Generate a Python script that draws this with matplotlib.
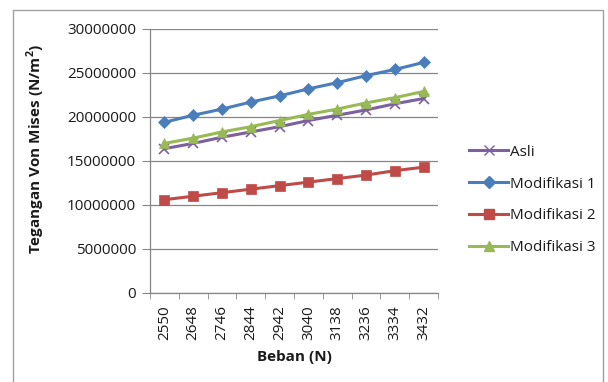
import matplotlib
matplotlib.use('Agg')
import matplotlib.pyplot as plt
from matplotlib.lines import Line2D
from matplotlib.patches import Rectangle

plt.rcParams['font.family'] = ['Open Sans', 'DejaVu Sans']

# --- data ---
beban = ['2550', '2648', '2746', '2844', '2942', '3040', '3138', '3236', '3334', '3432']
asli  = [16.4e6, 17.0e6, 17.7e6, 18.3e6, 18.9e6, 19.6e6, 20.2e6, 20.8e6, 21.5e6, 22.1e6]
mod1  = [19.4e6, 20.2e6, 20.9e6, 21.7e6, 22.4e6, 23.2e6, 23.9e6, 24.7e6, 25.4e6, 26.2e6]
mod2  = [10.6e6, 11.0e6, 11.4e6, 11.8e6, 12.2e6, 12.6e6, 13.0e6, 13.4e6, 13.9e6, 14.3e6]
mod3  = [17.0e6, 17.6e6, 18.3e6, 18.9e6, 19.6e6, 20.3e6, 20.9e6, 21.6e6, 22.2e6, 22.9e6]
yticks = [0, 5000000, 10000000, 15000000, 20000000, 25000000, 30000000]

GRID = '#868686'
TXT = '#1A1A1A'
series = [
    ('Asli',        asli, '#7D60A0', 'x', 7),
    ('Modifikasi 1', mod1, '#4A7EBB', 'D', 6),
    ('Modifikasi 2', mod2, '#BE4B48', 's', 7.5),
    ('Modifikasi 3', mod3, '#98B954', '^', 7.5),
]

fig = plt.figure(figsize=(6.08, 3.82), dpi=100)
fig.patch.set_facecolor('white')
# outer chart border (bottom edge runs off the image, as in the reference)
fig.patches.append(Rectangle((13 / 608, -0.05), 590 / 608, 1.05 - 10 / 382,
                             transform=fig.transFigure, fill=False,
                             edgecolor='#A0A0A0', linewidth=1))

ax = fig.add_axes([150 / 608, 1 - 293 / 382, 288 / 608, 264 / 382])
x = list(range(len(beban)))

handles = []
for name, vals, color, mk, ms in series:
    ax.plot(x, vals, color=color, linewidth=2.2, marker=mk, markersize=ms,
            markeredgewidth=1.2 if mk == 'x' else 0.5, markeredgecolor=color,
            zorder=3)
    handles.append(Line2D([], [], color=color, linewidth=2.2, marker=mk,
                          markersize=ms, markeredgecolor=color, label=name))

ax.set_xlim(-0.5, len(beban) - 0.5)
ax.set_ylim(0, 30000000)
ax.set_yticks(yticks)
ax.set_yticklabels([str(v) for v in yticks])
ax.set_xticks(x)
ax.set_xticklabels(beban, rotation=90)
ax.set_xticks([i - 0.5 for i in range(len(beban) + 1)], minor=True)
ax.tick_params(axis='x', which='major', length=0, pad=9, labelsize=11, colors=TXT)
ax.tick_params(axis='x', which='minor', length=4, color=GRID)
ax.tick_params(axis='y', length=6, color=GRID, labelsize=11, colors=TXT, pad=4)
ax.grid(axis='y', color=GRID, linewidth=0.9)
ax.set_axisbelow(True)
for s in ['top', 'right']:
    ax.spines[s].set_visible(False)
for s in ['left', 'bottom']:
    ax.spines[s].set_color(GRID)
    ax.spines[s].set_linewidth(0.9)

ax.set_xlabel('Beban (N)', fontsize=11, fontweight='bold', color=TXT)
ax.xaxis.set_label_coords(0.5, -(350 - 293) / 264)
ax.set_ylabel('Tegangan Von Mises (N/m$^\\mathregular{2}$)', fontsize=11,
              fontweight='bold', color=TXT)
ax.yaxis.set_label_coords(-(150 - 47) / 288, (233 - 89) / 264)

fig.legend(handles=handles, loc='center left', bbox_to_anchor=(455 / 608, 1 - 200 / 382),
           frameon=False, fontsize=11, handlelength=2.6, handletextpad=0.1,
           labelspacing=1.1, labelcolor=TXT)

fig.savefig('out.png', dpi=100)
